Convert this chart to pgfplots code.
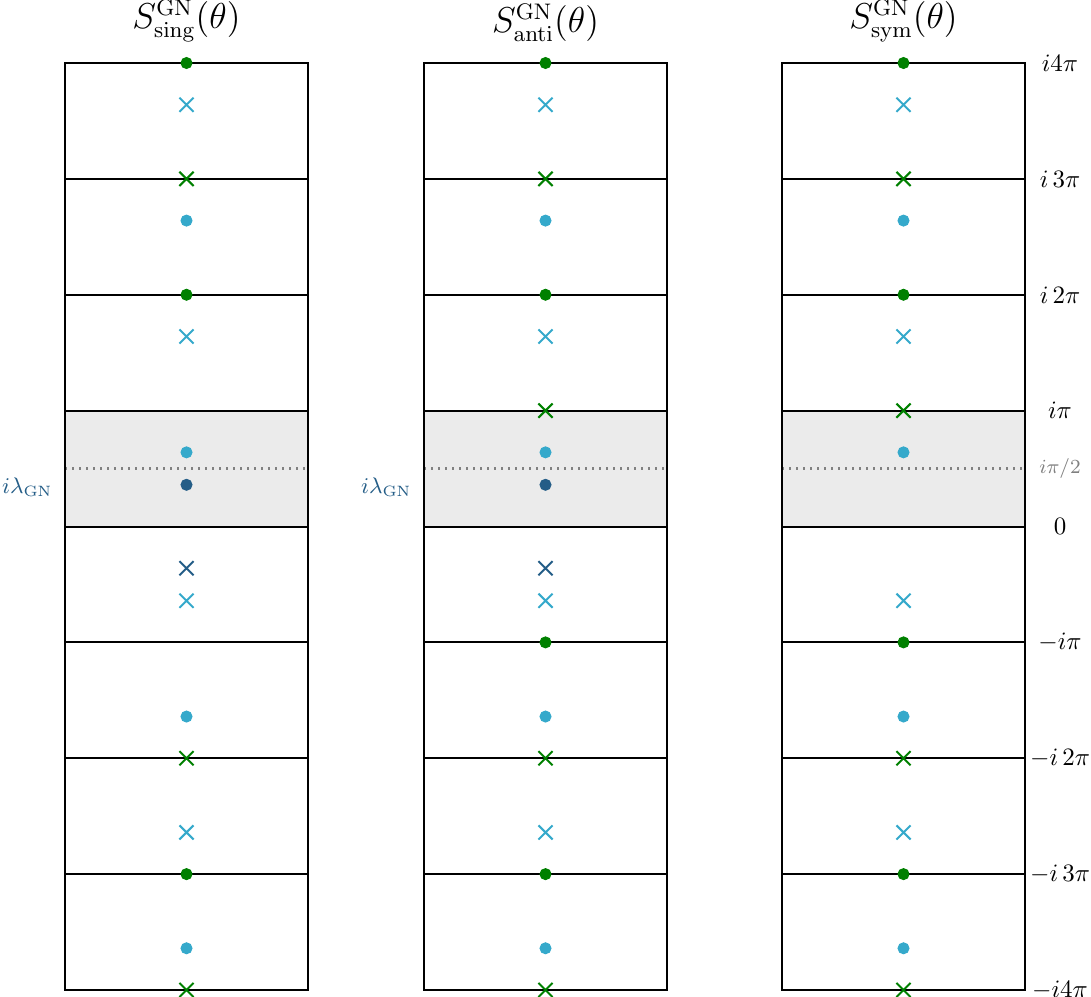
\documentclass[border=0pt]{standalone}
\usepackage{pgfplots}
\pgfplotsset{compat=1.18}

\definecolor{gnGreen}{RGB}{0,128,0}
\definecolor{lightB}{RGB}{53,169,203}
\definecolor{darkB}{RGB}{36,93,135}
\definecolor{stripF}{RGB}{235,235,235}

% heights are in units of pi; lambda_GN = 0.36 pi
\pgfplotsset{
  strip/.style={
    set layers=standard,
    scale only axis, width=97.2pt, height=370.8pt,
    xmin=-1, xmax=1, ymin=-4, ymax=4,
    clip=false,
    axis line style={black, line width=0.8pt},
    xtick=\empty,
    ytick={-4,-3,...,4},
    yticklabels={},
    major tick length=0pt,
    ymajorgrids,
    major grid style={black, line width=0.8pt},
    extra y ticks={0.5},
    extra y tick labels={},
    extra y tick style={major grid style={gray, dotted, line width=0.9pt}, major tick length=0pt},
    title style={font=\fontsize{13.3}{16}\selectfont, yshift=-1pt},
  },
  dot/.style={only marks, mark=*, mark size=2.2pt, color=#1, mark options={draw=#1, fill=#1}},
  crs/.style={only marks, mark=x, mark size=4pt, color=#1, mark options={line width=0.8pt}},
}
\tikzset{lam/.style={anchor=east, text=darkB, xshift=-1.5pt, font=\fontsize{9}{11}\selectfont}}

\begin{document}
\begin{tikzpicture}

% ---- singlet ----
\begin{axis}[strip, at={(26pt,2.8pt)}, anchor=south west, title={$S^{\mathrm{GN}}_{\mathrm{sing}}(\theta)$}]
  \addplot[on layer=axis background, fill=stripF, draw=none] coordinates {(-1,0) (1,0) (1,1) (-1,1) (-1,0)};
  \addplot[dot=gnGreen] coordinates {(0,4) (0,2) (0,-3)};
  \addplot[crs=gnGreen] coordinates {(0,3) (0,-2) (0,-4)};
  \addplot[dot=lightB] coordinates {(0,2.64) (0,0.64) (0,-1.64) (0,-3.64)};
  \addplot[crs=lightB] coordinates {(0,3.64) (0,1.64) (0,-0.64) (0,-2.64)};
  \addplot[dot=darkB] coordinates {(0,0.36)};
  \addplot[crs=darkB] coordinates {(0,-0.36)};
  \node[lam] at (axis cs:-1,0.34) {$i\lambda_{\mathrm{GN}}$};
\end{axis}

% ---- antisymmetric ----
\begin{axis}[strip, at={(169.6pt,2.8pt)}, anchor=south west, title={$S^{\mathrm{GN}}_{\mathrm{anti}}(\theta)$}]
  \addplot[on layer=axis background, fill=stripF, draw=none] coordinates {(-1,0) (1,0) (1,1) (-1,1) (-1,0)};
  \addplot[dot=gnGreen] coordinates {(0,4) (0,2) (0,-1) (0,-3)};
  \addplot[crs=gnGreen] coordinates {(0,3) (0,1) (0,-2) (0,-4)};
  \addplot[dot=lightB] coordinates {(0,2.64) (0,0.64) (0,-1.64) (0,-3.64)};
  \addplot[crs=lightB] coordinates {(0,3.64) (0,1.64) (0,-0.64) (0,-2.64)};
  \addplot[dot=darkB] coordinates {(0,0.36)};
  \addplot[crs=darkB] coordinates {(0,-0.36)};
  \node[lam] at (axis cs:-1,0.34) {$i\lambda_{\mathrm{GN}}$};
\end{axis}

% ---- symmetric ----
\begin{axis}[strip, at={(312.8pt,2.8pt)}, anchor=south west, title={$S^{\mathrm{GN}}_{\mathrm{sym}}(\theta)$},
  yticklabel pos=right,
  yticklabels={$-i4\pi$, $-i\,3\pi$, $-i\,2\pi$, $-i\pi$, $0$, $i\pi$, $i\,2\pi$, $i\,3\pi$, $i4\pi$},
  yticklabel style={anchor=center, xshift=14pt},
  extra y tick labels={$i\pi/2$},
  extra y tick style={yticklabel style={text=gray, font=\footnotesize}},
]
  \addplot[on layer=axis background, fill=stripF, draw=none] coordinates {(-1,0) (1,0) (1,1) (-1,1) (-1,0)};
  \addplot[dot=gnGreen] coordinates {(0,4) (0,2) (0,-1) (0,-3)};
  \addplot[crs=gnGreen] coordinates {(0,3) (0,1) (0,-2) (0,-4)};
  \addplot[dot=lightB] coordinates {(0,2.64) (0,0.64) (0,-1.64) (0,-3.64)};
  \addplot[crs=lightB] coordinates {(0,3.64) (0,1.64) (0,-0.64) (0,-2.64)};
\end{axis}

% fixed page frame
\pgfresetboundingbox
\path[use as bounding box] (0,0) rectangle (436.4pt,398.8pt);
\end{tikzpicture}
\end{document}
